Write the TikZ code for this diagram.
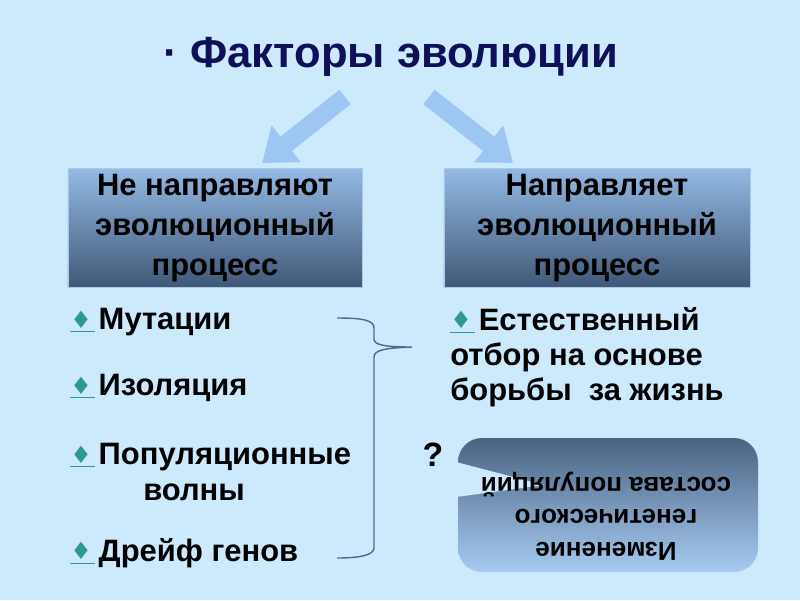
\documentclass[tikz,border=0pt]{standalone}
\usepackage{fontspec}
\setmainfont{Liberation Sans}
\newfontfamily\symfont{DejaVu Sans}
\usetikzlibrary{positioning,arrows.meta,shapes,calc}
\definecolor{slidebg}{HTML}{CDE9FC}
\definecolor{titlenavy}{HTML}{10105A}
\definecolor{arrowblue}{HTML}{9DC7F2}
\definecolor{hdtop}{HTML}{93B9E3}
\definecolor{hdbot}{HTML}{405877}
\definecolor{hdedge}{HTML}{A9C9EA}
\definecolor{bultea}{HTML}{2E9A8E}
\definecolor{bracegray}{HTML}{4C6A8E}
\definecolor{chtop}{HTML}{4B6382}
\definecolor{chbot}{HTML}{A6CBF1}
\newcommand{\bul}{\textcolor{bultea}{\underline{{\symfont\fontsize{17pt}{17pt}\selectfont\raisebox{1pt}{♦}}\hspace{2pt}}}\hspace{3pt}}

\begin{document}
\begin{tikzpicture}[x=0.025cm,y=-0.025cm,
          hdbox/.style={shade,top color=hdtop,bottom color=hdbot,draw=hdedge,line width=0.4pt,
                        minimum height=2.975cm,inner sep=0pt,align=center,
                        font=\bfseries\fontsize{22pt}{28.5pt}\selectfont},
          item/.style={anchor=west,inner sep=0pt,font=\bfseries\fontsize{22pt}{25pt}\selectfont},
          bigarrow/.style={draw=arrowblue,line width=13pt,-{Triangle[width=32pt,length=22pt]}},
          bracelink/.style={draw=bracegray,line width=1pt}]
  \fill[slidebg] (0,0) rectangle (800,600);
  \useasboundingbox (0,0) rectangle (800,600);
  % title
  \node[font=\bfseries\fontsize{31pt}{36pt}\selectfont,text=titlenavy] (title) at (391,57) {· Факторы эволюции};
  % two headers
  \node[hdbox,minimum width=7.35cm] (nonedir) at (215,228) {Не направляют\\эволюционный\\процесс};
  \node[hdbox,minimum width=7.65cm] (dir) at (597,228) {Направляет\\эволюционный\\процесс};
  \coordinate (lstart) at (345,97);
  \coordinate (ltip) at (262,163);
  \coordinate (rstart) at (429,97);
  \coordinate (rtip) at (513,163);
  \draw[bigarrow] (lstart) -- (ltip);
  \draw[bigarrow] (rstart) -- (rtip);
  % left list
  \node[item] (mut) at (70,322) {\bul Мутации};
  \node[item] (iso) at (70,388) {\bul Изоляция};
  \node[item] (pop) at (70,457) {\bul Популяционные};
  \node[item] (wave) at (143,492) {волны};
  \node[item] (drift) at (70,553) {\bul Дрейф генов};
  % right list
  \node[item,align=left] (sel) at (450,357)
    {\bul Естественный\\отбор на основе\\борьбы\ \ за жизнь};
  % brace
  \draw[bracelink] (337,318) .. controls (362,318) and (374,320) .. (374,328) -- (374,339)
    .. controls (374,345) and (385,347) .. (412,347)
    .. controls (385,348) and (374,350) .. (374,357) -- (374,548)
    .. controls (374,555) and (360,558) .. (337,558);
  \node[font=\bfseries\fontsize{24pt}{28pt}\selectfont] (quest) at (433,455) {?};
  % change box (upside down)
  \shade[top color=chtop,bottom color=chbot,rounded corners=17pt] (458,438) rectangle (758,572);
  \fill[slidebg] (456,462) -- (544,485) -- (456,497) -- cycle;
  \node[rotate=180,align=center,font=\bfseries\fontsize{18.5pt}{23pt}\selectfont] (change) at (606,516)
    {Изменение\\генетического\\состава популяций};
\end{tikzpicture}
\end{document}
